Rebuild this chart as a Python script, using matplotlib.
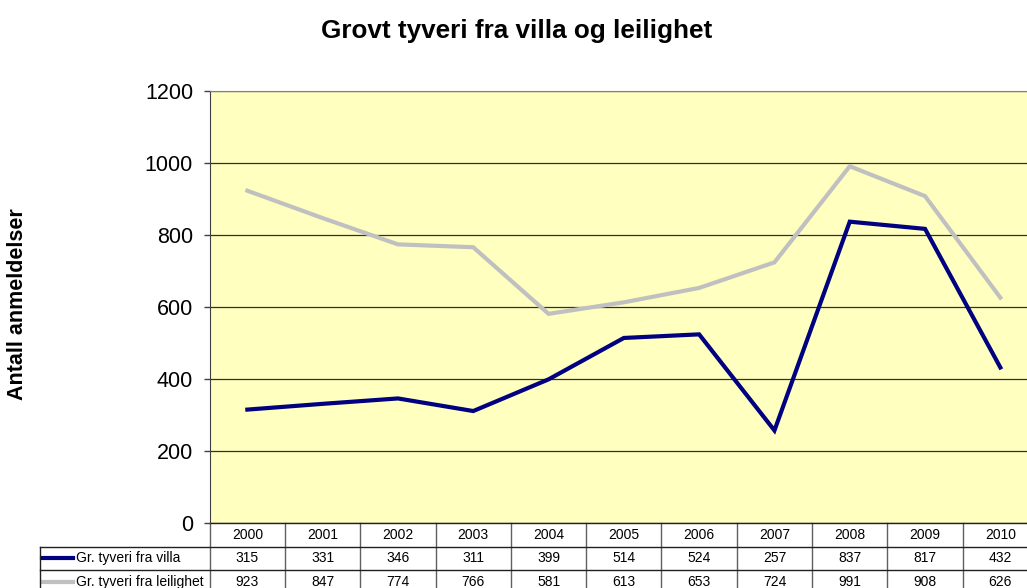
import numpy as np
import matplotlib
matplotlib.use("Agg")
import matplotlib.pyplot as plt

plt.rcParams["font.family"] = ["Liberation Sans", "DejaVu Sans"]

# ─── Data ───
years = ["2000", "2001", "2002", "2003", "2004", "2005", "2006", "2007", "2008", "2009", "2010"]
villa = [315, 331, 346, 311, 399, 514, 524, 257, 837, 817, 432]
leilighet = [923, 847, 774, 766, 581, 613, 653, 724, 991, 908, 626]
series_names = ["Gr. tyveri fra villa", "Gr. tyveri fra leilighet"]
series_colors = ["#000080", "#C0C0C0"]
yticks = [0, 200, 400, 600, 800, 1000, 1200]

W, H = 1027, 588
fig = plt.figure(figsize=(W / 100, H / 100), dpi=100)
fig.patch.set_facecolor("white")

left_px, col_px, top_px, bot_px = 209.7, 75.3, 91, 523
ax = fig.add_axes([left_px / W, (H - bot_px) / H, len(years) * col_px / W, (bot_px - top_px) / H])
ax.set_facecolor("#FFFFC0")

x = np.arange(len(years)) + 0.5
for vals, c in zip([villa, leilighet], series_colors):
    ax.plot(x, vals, color=c, linewidth=3, solid_joinstyle="miter", zorder=3)

ax.set_xlim(0, len(years))
ax.set_ylim(0, 1200)
ax.set_yticks(yticks)
ax.set_yticklabels([str(t) for t in yticks], fontsize=15.5)
ax.tick_params(axis="y", length=4, width=1, color="#404040", pad=8)
ax.set_xticks([])
ax.grid(axis="y", color="#303030", linewidth=0.9)
ax.set_axisbelow(True)
for s in ["right", "bottom"]:
    ax.spines[s].set_visible(False)
ax.spines["left"].set_color("#404040")
ax.spines["top"].set_color("#808080")

# ─── Data table below plot ───
tr = ax.get_xaxis_transform()
rh = 23.5 / (bot_px - top_px)
lab_left = (40 - left_px) / col_px
n = len(years)

for i, yr in enumerate(years):
    ax.text(i + 0.5, -0.5 * rh, yr, transform=tr, ha="center", va="center", fontsize=10, clip_on=False)
for r, vals in enumerate([villa, leilighet], start=1):
    for i, v in enumerate(vals):
        ax.text(i + 0.5, -(r + 0.5) * rh, str(v), transform=tr, ha="center", va="center", fontsize=10, clip_on=False)

for r, (name, c) in enumerate(zip(series_names, series_colors), start=1):
    yc = -(r + 0.5) * rh
    ax.plot([lab_left + 0.02, lab_left + 0.44], [yc, yc], transform=tr, color=c, linewidth=3, clip_on=False)
    ax.text(lab_left + 0.48, yc, name, transform=tr, ha="left", va="center", fontsize=10, clip_on=False)

for i in range(n + 1):
    ax.plot([i, i], [0, -3 * rh], transform=tr, color="#606060", linewidth=1, clip_on=False)
ax.plot([lab_left, lab_left], [-rh, -3 * rh], transform=tr, color="#202020", linewidth=1, clip_on=False)
ax.plot([0, n], [0, 0], transform=tr, color="#202020", linewidth=1, clip_on=False)
for r in [1, 2]:
    ax.plot([lab_left, n], [-r * rh, -r * rh], transform=tr, color="#202020", linewidth=1, clip_on=False)

fig.text(0.503, 0.947, "Grovt tyveri fra villa og leilighet", ha="center", va="center",
         fontsize=18.8, fontweight="bold")
fig.text(18 / W, 1 - 304.5 / H, "Antall anmeldelser", ha="center", va="center",
         rotation=90, fontsize=15.5, fontweight="bold")

plt.savefig("out.png", dpi=100)
plt.close()
